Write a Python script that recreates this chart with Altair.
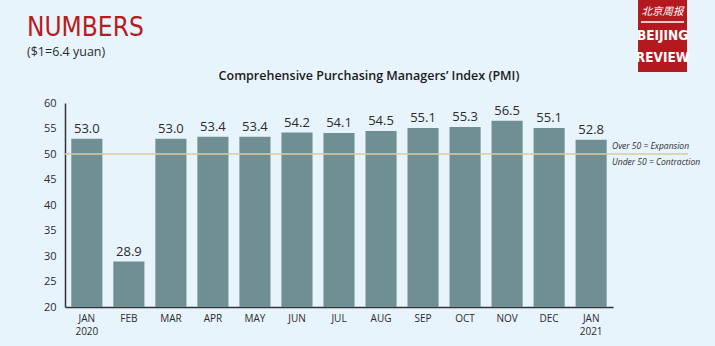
import altair as alt
import pandas as pd

months = ["JAN\n2020", "FEB", "MAR", "APR", "MAY", "JUN", "JUL", "AUG", "SEP", "OCT", "NOV", "DEC", "JAN\n2021"]
pmi = [53.0, 28.9, 53.0, 53.4, 53.4, 54.2, 54.1, 54.5, 55.1, 55.3, 56.5, 55.1, 52.8]
threshold = [50]
y_ticks = [20, 25, 30, 35, 40, 45, 50, 55, 60]

df = pd.DataFrame({"month": months, "pmi": pmi})
df["label"] = [f"{v:.1f}" for v in pmi]
one = pd.DataFrame({"v": [0]})
thr = pd.DataFrame({"pmi": threshold})

BG = "#E8F4FC"
BAR = "#6F8F94"
DARK = "#2B2B2B"
RED = "#B71C22"
COND = "'Liberation Sans Narrow', 'DejaVu Sans Condensed', 'Roboto'"

x_axis = alt.Axis(labelAngle=0, ticks=False, domainColor="#333333", domainWidth=1.5,
                  labelColor=DARK, labelFont="Open Sans", labelFontSize=10,
                  labelPadding=6, labelLineHeight=13, labelOverlap=False,
                  labelExpr="split(datum.label, '\\n')")
y_axis = alt.Axis(values=y_ticks, ticks=False, grid=False,
                  domainColor="#333333", domainWidth=1.5, labelColor=DARK,
                  labelFont="Open Sans", labelFontSize=11, labelPadding=9,
                  labelOverlap=False)
x_scale = alt.Scale(paddingInner=0.26, paddingOuter=0.15)
y_scale = alt.Scale(domain=[20, 60], nice=False, zero=False)

def X():
    return alt.X("month:N", sort=months, title=None, scale=x_scale, axis=x_axis)

def Y():
    return alt.Y("pmi:Q", title=None, scale=y_scale, axis=y_axis)

bars = alt.Chart(df).mark_bar(color=BAR, clip=True).encode(x=X(), y=Y())
labels = alt.Chart(df).mark_text(dy=-10, fontSize=13, font="Open Sans", color=DARK).encode(
    x=X(), y=Y(), text="label:N")

rule = alt.Chart(thr).mark_rule(color="#D5CDA6", strokeWidth=1.5).encode(
    y=Y(), x=alt.value(0), x2=alt.value(623))

def txt(text, x, y, **kw):
    return alt.Chart(one).mark_text(text=text, **kw).encode(x=alt.value(x), y=alt.value(y))

ann1 = txt("Over 50 = Expansion", 547, 43, align="left", baseline="middle", fontSize=8.5,
           fontStyle="italic", font="Open Sans", color=DARK)
ann2 = txt("Under 50 = Contraction", 547, 59, align="left", baseline="middle", fontSize=8.5,
           fontStyle="italic", font="Open Sans", color=DARK)

title = txt("Comprehensive Purchasing Managers\u2019 Index (PMI)", 304, -27, align="center",
            baseline="middle", fontSize=12.5, fontWeight=600, font="Open Sans", color="#1A1A1A")
numbers = txt("NUMBERS", -38, -67, align="left", baseline="alphabetic", fontSize=26,
              font=COND, color=RED)
yuan = txt("($1=6.4 yuan)", -38, -51, align="left", baseline="middle", fontSize=12.5,
           font="Open Sans", color=DARK)

logo_box = alt.Chart(one).mark_rect(color="#B3191F").encode(
    x=alt.value(573), x2=alt.value(622), y=alt.value(-103), y2=alt.value(-31))
logo_cn = txt("北京周报", 597.5, -91, align="center", baseline="middle", fontSize=10.5,
              font="Noto Sans CJK SC", color="white", fontStyle="italic")
logo_line = alt.Chart(one).mark_rule(color="white", strokeWidth=1.5).encode(
    x=alt.value(576), x2=alt.value(619), y=alt.value(-81))
logo_b = txt("BEIJING", 597.5, -67, align="center", baseline="middle", fontSize=13.5,
             fontWeight="bold", font=COND, color="white")
logo_r = txt("REVIEW", 597.5, -45, align="center", baseline="middle", fontSize=13.5,
             fontWeight="bold", font=COND, color="white")

chart = alt.layer(bars, rule, labels, ann1, ann2, title, numbers, yuan,
                  logo_box, logo_cn, logo_line, logo_b, logo_r).properties(
    width=548, height=204,
    autosize=alt.AutoSizeParams(type="none"),
    padding={"left": 65, "top": 103, "right": 102, "bottom": 39},
    background=BG,
).configure_view(stroke=None)

chart.save("out.html", embed_options={"renderer": "svg", "actions": False})
